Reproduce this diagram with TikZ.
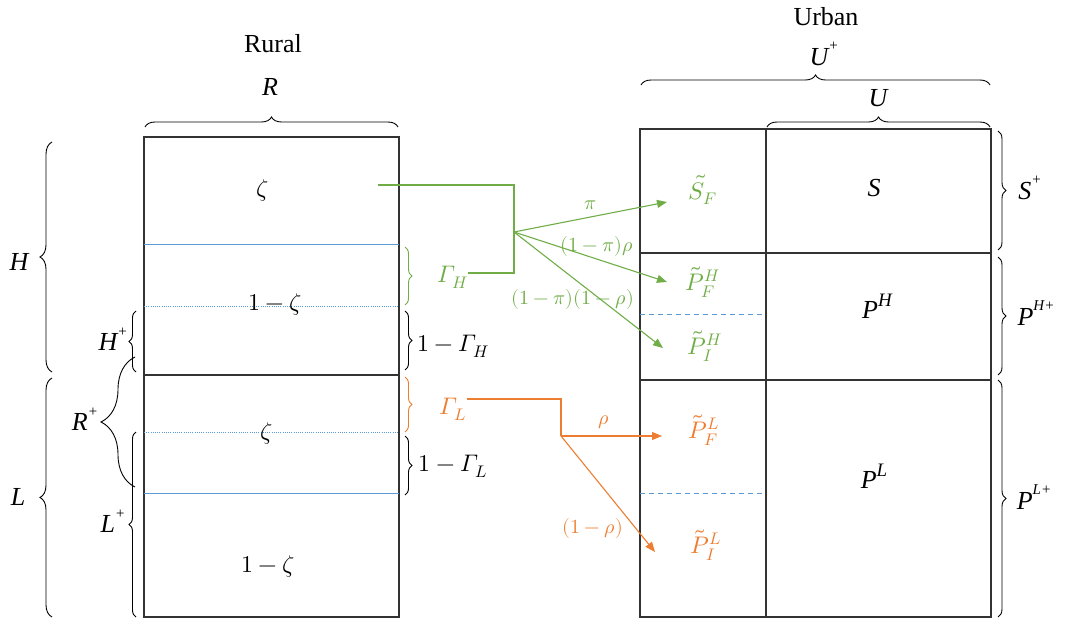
\documentclass[tikz,border=0pt]{standalone}
\usepackage{fontspec}
\usepackage[math-style=ISO]{unicode-math}
\setmainfont{Liberation Serif}
\setmathfont{Latin Modern Math}
\usetikzlibrary{decorations.pathreplacing,arrows.meta}
\definecolor{gr}{HTML}{70AD47}
\definecolor{og}{HTML}{ED7D31}
\definecolor{bl}{HTML}{5B9BD5}
\definecolor{bx}{HTML}{333333}
\newcommand{\myup}[1]{\raisebox{0.55em}{\fontsize{15}{17}\selectfont #1}}
\newcommand{\myupb}[1]{\raisebox{0.45em}{\fontsize{19}{21}\selectfont #1}}
\tikzset{
  boxline/.style={draw=bx,line width=1.3pt},
  sep/.style={draw=bx,line width=1.3pt},
  bsolid/.style={draw=bl,line width=1pt},
  bdot/.style={draw=bl,line width=1pt,dash pattern=on 1pt off 1.2pt},
  bdash/.style={draw=bl,line width=1pt,dash pattern=on 5pt off 4pt},
  brc/.style={decorate,decoration={brace,amplitude=#1},line width=0.9pt},
  brc/.default=9pt,
  big/.style={font=\fontsize{26}{30}\selectfont,inner sep=0},
  mid/.style={font=\fontsize{26}{30}\selectfont\itshape,inner sep=0},
  cell/.style={font=\fontsize{24}{28}\selectfont,inner sep=0},
  sml/.style={font=\fontsize{20}{24}\selectfont,inner sep=0},
  garr/.style={draw=gr,line width=1.1pt,-{Triangle[length=10pt,width=8pt]}},
  oarr/.style={draw=og,line width=1.1pt,-{Triangle[length=10pt,width=8pt]}},
  gline/.style={draw=gr,line width=1.1pt},
  oline/.style={draw=og,line width=1.1pt},
}
\begin{document}
\begin{tikzpicture}[x=1pt,y=-1pt]
\useasboundingbox (0,0) rectangle (1065,620);
% ---------- Rural ----------
\draw[boxline] (144,137) rectangle (399,617);
\draw[bsolid] (144,245) -- (399,245);
\draw[bdot] (144,306) -- (399,306);
\draw[sep] (144,375) -- (399,375);
\draw[bdot] (144,432) -- (399,432);
\draw[bsolid] (144,493) -- (399,493);
\node[cell] (z1) at (263,191) {$\zeta$};
\node[cell] (z2) at (275,305) {$1-\zeta$};
\node[cell] (z3) at (267,434) {$\zeta$};
\node[cell] (z4) at (268,567) {$1-\zeta$};
\node[big] (rurallbl) at (273,44) {Rural};
\coordinate (rA) at (145,127); \coordinate (rB) at (398,127);
\draw[brc=10pt] (rA) -- (rB);
\node[mid] (Rl) at (270,87) {R};
% left braces
\coordinate (hA) at (52,372); \coordinate (hB) at (52,142);
\draw[brc=12pt] (hA) -- (hB);
\node[mid] (Hl) at (19,262) {H};
\coordinate (lA) at (52,617); \coordinate (lB) at (52,378);
\draw[brc=12pt] (lA) -- (lB);
\node[mid] (Ll) at (18,497) {L};
\coordinate (hpA) at (136,372); \coordinate (hpB) at (136,311);
\draw[brc=7pt] (hpA) -- (hpB);
\node[mid] (HPl) at (113,339) {H\myup{+}};
\coordinate (rpA) at (135,487); \coordinate (rpB) at (135,357);
\draw[brc=34pt] (rpA) -- (rpB);
\node[mid] (RPl) at (85,419) {R\myup{+}};
\coordinate (lpA) at (136,617); \coordinate (lpB) at (136,432);
\draw[brc=7pt] (lpA) -- (lpB);
\node[mid] (LPl) at (113,521) {L\myup{+}};
% right braces of rural
\coordinate (ghA) at (405,247); \coordinate (ghB) at (405,305);
\draw[brc=7pt,draw=gr] (ghA) -- (ghB);
\node[cell,text=gr] (GH) at (453,277) {$\Gamma_H$};
\coordinate (nhA) at (405,311); \coordinate (nhB) at (405,370);
\draw[brc=7pt] (nhA) -- (nhB);
\node[cell] (NGH) at (453,346) {$1-\Gamma_H$};
\coordinate (glA) at (405,377); \coordinate (glB) at (405,432);
\draw[brc=7pt,draw=og] (glA) -- (glB);
\node[cell,text=og] (GL) at (453,409) {$\Gamma_L$};
\coordinate (nlA) at (405,436); \coordinate (nlB) at (405,495);
\draw[brc=7pt] (nlA) -- (nlB);
\node[cell] (NGL) at (453,466) {$1-\Gamma_L$};
% ---------- Urban ----------
\draw[boxline] (640,129) rectangle (991,617);
\draw[sep] (766,129) -- (766,617);
\draw[sep] (640,253) -- (991,253);
\draw[sep] (640,380) -- (991,380);
\draw[bdash] (640,314) -- (766,314);
\draw[bdash] (640,493) -- (766,493);
\node[big] (urbanlbl) at (826,17) {Urban};
\coordinate (upA) at (641,85); \coordinate (upB) at (990,85);
\draw[brc=10pt] (upA) -- (upB);
\node[mid] (UPl) at (824,54) {U\myup{+}};
\coordinate (uA) at (767,127); \coordinate (uB) at (990,127);
\draw[brc=10pt] (uA) -- (uB);
\node[mid] (Ul) at (878,98) {U};
\node[cell,text=gr] (SF) at (703,190) {$\tilde S_F$};
\node[mid] (S) at (874,188) {S};
\node[cell,text=gr] (PFH) at (703,282) {$\tilde P_F^H$};
\node[mid] (PH) at (877,306) {P\myupb{H}};
\node[cell,text=gr] (PIH) at (705,346) {$\tilde P_I^H$};
\node[cell,text=og] (PFL) at (704,430) {$\tilde P_F^L$};
\node[mid] (PL) at (874,476) {P\myupb{L}};
\node[cell,text=og] (PIL) at (706,545) {$\tilde P_I^L$};
% right braces
\coordinate (sA) at (998,131); \coordinate (sB) at (998,250);
\draw[brc=8pt] (sA) -- (sB);
\node[mid] (SPl) at (1030,188) {S\myup{+}};
\coordinate (phA) at (998,257); \coordinate (phB) at (998,375);
\draw[brc=8pt] (phA) -- (phB);
\node[mid] (PHPl) at (1036,313) {P\myup{H+}};
\coordinate (plA) at (998,380); \coordinate (plB) at (998,617);
\draw[brc=8pt] (plA) -- (plB);
\node[mid] (PLPl) at (1034,497) {P\myup{L+}};
% ---------- Green flows ----------
\coordinate (gs) at (378,185);
\coordinate (gk1) at (514,185);
\coordinate (gk2) at (514,273);
\coordinate (gb) at (514,232);
\draw[gline] (gs) -- (gk1) -- (gk2) -- (gk2 -| GH.east);
\coordinate (g1) at (667,202);
\coordinate (g2) at (667,282);
\coordinate (g3) at (663,348);
\draw[garr] (gb) -- (g1);
\draw[garr] (gb) -- (g2);
\draw[garr] (gb) -- (g3);
\node[sml,text=gr] (pi1) at (590,205) {$\pi$};
\node[sml,text=gr] (pi2) at (597,247) {$(1-\pi)\rho$};
\node[sml,text=gr] (pi3) at (573,300) {$(1-\pi)(1-\rho)$};
% ---------- Orange flows ----------
\coordinate (ok1) at (561,399);
\coordinate (ob) at (561,436);
\draw[oline] (ok1 -| GL.east) -- (ok1) -- (ob);
\coordinate (o1) at (662,436);
\coordinate (o2) at (655,552);
\draw[oarr] (ob) -- (o1);
\draw[oarr] (ob) -- (o2);
\node[sml,text=og] (rho1) at (604,422) {$\rho$};
\node[sml,text=og] (rho2) at (593,528) {$(1-\rho)$};
\end{tikzpicture}
\end{document}
